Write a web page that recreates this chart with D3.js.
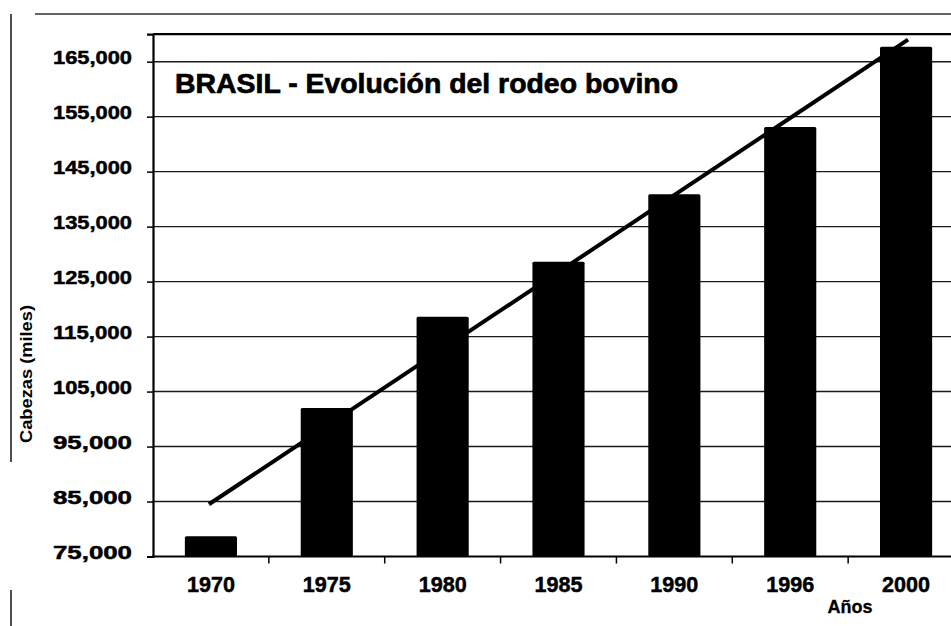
<!DOCTYPE html>
<html>
<head>
<meta charset="utf-8">
<script src="https://cdn.jsdelivr.net/npm/d3@7/dist/d3.min.js"></script>
<style>
html,body{margin:0;padding:0;background:#fff;}
svg{display:block;font-family:"Liberation Sans",Arial,Helvetica,sans-serif;}
</style>
</head>
<body>
<svg id="chart" width="951" height="626"></svg>
<script>
// ---- data ----
const years = ["1970","1975","1980","1985","1990","1996","2000"];
const cattle = [78700, 102000, 118600, 128600, 140900, 153100, 167700];
const trendStart = 84500;   // trend line value at 1970
const trendEnd = 169000;    // trend line value at 2000
const yTicks = [75000, 85000, 95000, 105000, 115000, 125000, 135000, 145000, 155000, 165000];
const title = "BRASIL - Evolución del rodeo bovino";
const yLabel = "Cabezas (miles)";
const xLabel = "Años";

// ---- layout ----
const svg = d3.select("#chart");
const pLeft = 153, pRight = 964, pTop = 34.2, pBottom = 556.5;

const x = d3.scaleBand().domain(years).range([pLeft, pRight])
  .paddingInner(0.55).paddingOuter(0.275);
const y = d3.scaleLinear().domain([75000, 170000]).range([pBottom, pTop]);

// outer scan frame
svg.append("line").attr("x1", 35).attr("x2", 951).attr("y1", 14).attr("y2", 14)
  .attr("stroke", "#333").attr("stroke-width", 1.6);
svg.append("line").attr("x1", 11).attr("x2", 11).attr("y1", 14).attr("y2", 462)
  .attr("stroke", "#222").attr("stroke-width", 1.6);
svg.append("line").attr("x1", 11).attr("x2", 11).attr("y1", 590).attr("y2", 626)
  .attr("stroke", "#222").attr("stroke-width", 1.6);

// gridlines
svg.append("g").selectAll("line").data(yTicks.filter(d => d > 75000)).join("line")
  .attr("x1", pLeft).attr("x2", 951)
  .attr("y1", d => y(d)).attr("y2", d => y(d))
  .attr("stroke", "#1a1a1a").attr("stroke-width", 1.4);

// top border of plot
svg.append("line").attr("x1", pLeft).attr("x2", 951).attr("y1", pTop).attr("y2", pTop)
  .attr("stroke", "#000").attr("stroke-width", 2.2);

// bars
svg.append("g").selectAll("rect").data(years).join("rect")
  .attr("x", d => x(d))
  .attr("width", x.bandwidth())
  .attr("y", (d, i) => y(cattle[i]))
  .attr("height", (d, i) => y(75000) - y(cattle[i]))
  .attr("rx", 1.5)
  .attr("fill", "#000");

// trend line
svg.append("line")
  .attr("x1", x(years[0]) + x.bandwidth() / 2 - 2)
  .attr("x2", x(years[years.length - 1]) + x.bandwidth() / 2 + 2)
  .attr("y1", y(trendStart)).attr("y2", y(trendEnd))
  .attr("stroke", "#000").attr("stroke-width", 4);

// y axis
const yAxis = svg.append("g").attr("transform", `translate(${pLeft},0)`)
  .call(d3.axisLeft(y).tickValues(yTicks).tickFormat(d3.format(",")).tickSize(6).tickPadding(15));
yAxis.select(".domain").attr("stroke", "#000").attr("stroke-width", 2.2);
yAxis.selectAll(".tick line").attr("stroke", "#000").attr("stroke-width", 1.5);
yAxis.selectAll(".tick text")
  .attr("font-size", 19).attr("font-weight", "bold").attr("fill", "#000")
  .attr("stroke", "#000").attr("stroke-width", 0.5)
  .attr("font-family", '"Liberation Sans", Arial, sans-serif')
  .attr("dy", "0.12em")
  .attr("textLength", 79).attr("lengthAdjust", "spacingAndGlyphs");

// x axis
const xAxis = svg.append("g").attr("transform", `translate(0,${pBottom})`)
  .call(d3.axisBottom(x).tickSize(0).tickPadding(20));
xAxis.select(".domain").remove();
xAxis.selectAll(".tick text")
  .attr("font-size", 22).attr("font-weight", "bold").attr("fill", "#000")
  .attr("stroke", "#000").attr("stroke-width", 0.5)
  .attr("font-family", '"Liberation Sans", Arial, sans-serif')
  .attr("textLength", 48).attr("lengthAdjust", "spacingAndGlyphs");
svg.append("line").attr("x1", pLeft - 1).attr("x2", 951).attr("y1", pBottom).attr("y2", pBottom)
  .attr("stroke", "#000").attr("stroke-width", 2.2);
// category boundary ticks
svg.append("g").selectAll("line").data(years.slice(1)).join("line")
  .attr("x1", d => x(d) - x.step() * x.paddingInner() / 2)
  .attr("x2", d => x(d) - x.step() * x.paddingInner() / 2)
  .attr("y1", pBottom).attr("y2", pBottom + 7)
  .attr("stroke", "#000").attr("stroke-width", 1.5);

// title
svg.append("text").attr("x", 175).attr("y", 93)
  .attr("font-size", 28).attr("font-weight", "bold").attr("fill", "#000")
  .attr("stroke", "#000").attr("stroke-width", 0.7)
  .attr("textLength", 503).attr("lengthAdjust", "spacingAndGlyphs")
  .text(title);

// y label
svg.append("text")
  .attr("transform", "translate(32,374) rotate(-90)")
  .attr("text-anchor", "middle")
  .attr("font-size", 17).attr("font-weight", "bold").attr("fill", "#000")
  .attr("textLength", 138).attr("lengthAdjust", "spacingAndGlyphs")
  .text(yLabel);

// x label
svg.append("text").attr("x", 850).attr("y", 613)
  .attr("text-anchor", "middle")
  .attr("font-size", 18).attr("font-weight", "bold").attr("fill", "#000")
  .attr("stroke", "#000").attr("stroke-width", 0.3)
  .attr("textLength", 45).attr("lengthAdjust", "spacingAndGlyphs")
  .text(xLabel);
</script>
</body>
</html>
